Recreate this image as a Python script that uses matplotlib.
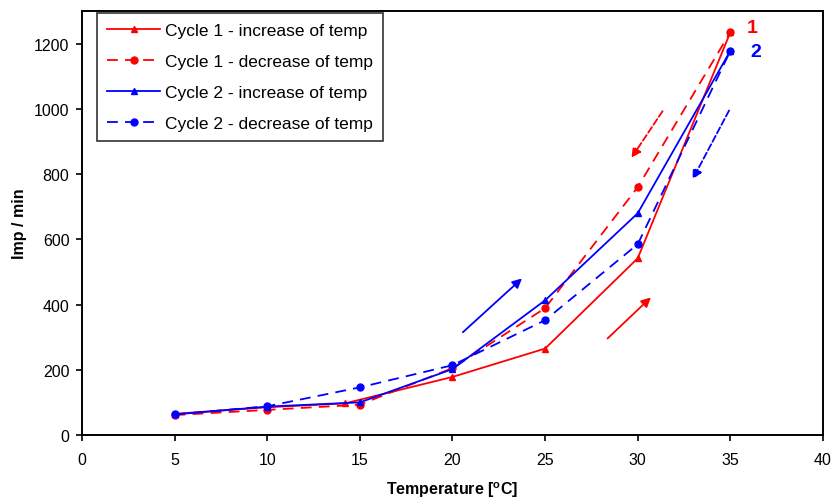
import matplotlib.pyplot as plt

plt.rcParams['font.family'] = ['Liberation Sans', 'DejaVu Sans']

# temperatures (degC)
temp = [5, 10, 14.2, 20, 25, 30, 35]
temp_dec = [5, 10, 15, 20, 25, 30, 35]

# Imp / min for each run
c1_inc = [65, 85, 97, 178, 265, 542, 1235]
c1_dec = [61, 77, 93, 205, 389, 760, 1235]
c2_inc = [63, 87, 100, 202, 413, 680, 1178]
c2_dec = [63, 88, 146, 214, 352, 585, 1178]

# direction arrows: (x_tail, y_tail, x_head, y_head)
arrows = [
    (20.56, 315, 23.75, 480, 'blue', '-'),
    (28.37, 296, 30.71, 422, 'red', '-'),
    (31.34, 993, 29.66, 850, 'red', '--'),
    (34.93, 995, 32.96, 784, 'blue', '--'),
]

fig = plt.figure(figsize=(8.34, 5.02), dpi=100)
ax = fig.add_axes([0.0983, 0.1315, 0.8885, 0.8445])

ax.plot(temp, c1_inc, color='red', ls='-', marker='^', ms=5, lw=1.3,
        label='Cycle 1 - increase of temp')
ax.plot(temp_dec, c1_dec, color='red', ls=(0, (6, 4)), marker='o', ms=5, lw=1.3,
        label='Cycle 1 - decrease of temp')
ax.plot(temp_dec, c2_inc, color='blue', ls='-', marker='^', ms=5, lw=1.3,
        label='Cycle 2 - increase of temp')
ax.plot(temp_dec, c2_dec, color='blue', ls=(0, (6, 4)), marker='o', ms=5, lw=1.3,
        label='Cycle 2 - decrease of temp')

for x0, y0, x1, y1, c, ls in arrows:
    ax.annotate('', xy=(x1, y1), xytext=(x0, y0),
                arrowprops=dict(arrowstyle='-|>', color=c, lw=1.3, ls=ls,
                                mutation_scale=14, shrinkA=0, shrinkB=0))

ax.text(35.9, 1250, '1', color='red', fontsize=14, fontweight='bold', va='center')
ax.text(36.1, 1175, '2', color='blue', fontsize=14, fontweight='bold', va='center')

ax.set_xlim(0, 40)
ax.set_ylim(0, 1300)
ax.set_xticks(range(0, 41, 5))
ax.set_yticks(range(0, 1201, 200))
ax.tick_params(direction='out', length=4, width=1.2, labelsize=11.5)
ax.tick_params(axis='x', pad=8)
ax.tick_params(axis='y', pad=5)
for s in ax.spines.values():
    s.set_linewidth(1.4)

ax.set_xlabel('Temperature [$^{\\mathregular{o}}$C]', fontsize=11.5, fontweight='bold',
              labelpad=9)
ax.set_ylabel('Imp / min', fontsize=11.5, fontweight='bold', labelpad=5)

leg = ax.legend(loc='upper left', bbox_to_anchor=(0.018, 1.0), borderaxespad=0.1,
                fontsize=12.5, frameon=True, fancybox=False, edgecolor='black',
                handlelength=3.0, handletextpad=0.3, borderpad=0.6,
                labelspacing=0.9)
leg.get_frame().set_linewidth(1.2)

fig.savefig('out.png', dpi=100)
